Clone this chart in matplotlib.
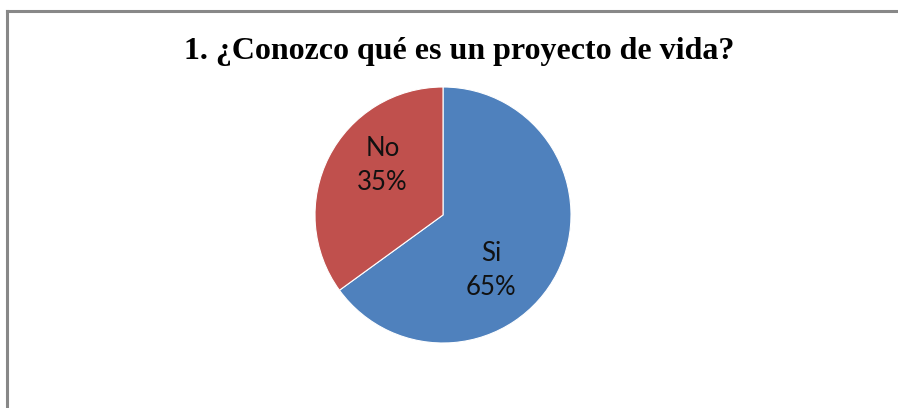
import math
import matplotlib
matplotlib.use('Agg')
import matplotlib.pyplot as plt

# data
labels = ['Si', 'No']
values = [65, 35]
colors = ['#4F81BD', '#C0504D']
title = '1. ¿Conozco qué es un proyecto de vida?'

# where Excel put the data labels (angle in degrees, distance as fraction of radius)
label_pos = [(-49, 0.57), (141, 0.61)]

W, H = 898, 408
fig = plt.figure(figsize=(W / 100, H / 100), dpi=100)
fig.patch.set_facecolor('white')

# chart border (only left and top visible in the crop)
fig.add_artist(plt.Line2D([6.5 / W, 6.5 / W], [0, 1 - 10.5 / H], color='#888888', lw=2.2))
fig.add_artist(plt.Line2D([6.5 / W, 1], [1 - 10.5 / H, 1 - 10.5 / H], color='#888888', lw=2.2))

fig.text(459 / W, 1 - 51 / H, title, ha='center', va='center',
         fontsize=23, fontweight='bold', family='Liberation Serif')

cx, cy, r = 443, 215, 128
ax = fig.add_axes([(cx - r) / W, (H - cy - r) / H, 2 * r / W, 2 * r / H])

wedges = ax.pie(values, colors=colors, startangle=90, counterclock=False,
                wedgeprops=dict(edgecolor='white', linewidth=0.8))[0]
for lab, v, (a, d) in zip(labels, values, label_pos):
    t = math.radians(a)
    ax.text(d * math.cos(t), d * math.sin(t), '%s\n%d%%' % (lab, v),
            ha='center', va='center', fontsize=18.5, family='Lato',
            linespacing=1.45, color='#111111')
ax.set_aspect('equal')
ax.set_xlim(-1, 1)
ax.set_ylim(-1, 1)

fig.savefig('out.png', dpi=100)
